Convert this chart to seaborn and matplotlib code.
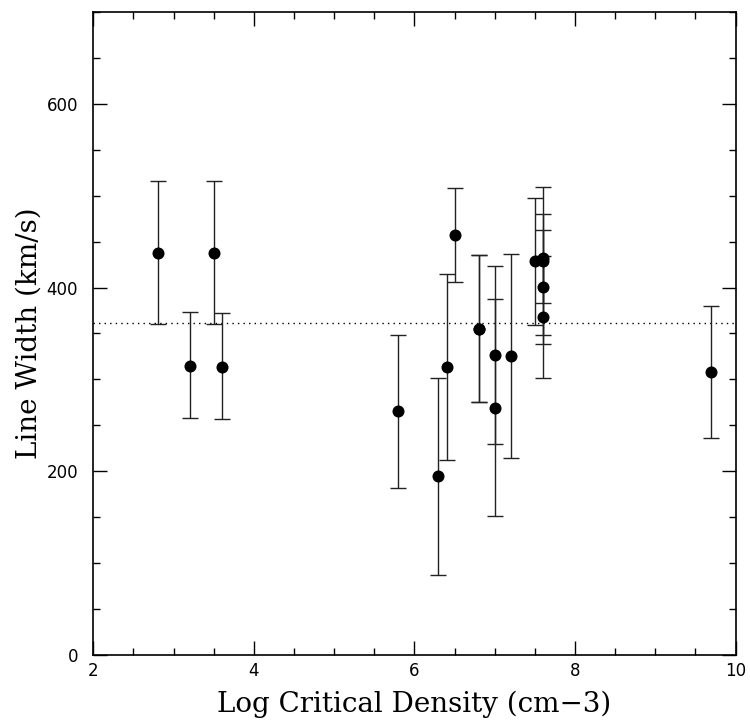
import matplotlib
matplotlib.use("Agg")
import matplotlib.pyplot as plt
from matplotlib.ticker import MultipleLocator
import seaborn as sns
import pandas as pd

# Data
log_density = [2.8, 3.2, 3.5, 3.6, 5.8, 6.3, 6.4, 6.5, 6.8, 6.8, 7.0, 7.0, 7.2, 7.5, 7.6, 7.6, 7.6, 7.6, 9.7]
line_width  = [438, 315, 438, 314, 266, 195, 313, 457, 355, 355, 327, 269, 325, 429, 432, 429, 401, 368, 308]
err_upper   = [78, 58, 78, 58, 82, 107, 102, 51, 80, 80, 96, 119, 111, 68, 48, 80, 62, 66, 72]
err_lower   = [78, 57, 78, 57, 84, 108, 101, 51, 80, 80, 97, 118, 111, 70, 49, 81, 62, 66, 72]
mean_width = 361

df = pd.DataFrame({"x": log_density, "y": line_width})

sns.set_theme(style="ticks")
plt.rcParams["font.family"] = ["DejaVu Sans"]

fig = plt.figure(figsize=(7.5, 7.26), dpi=100)
ax = fig.add_axes([0.1244, 0.0978, 0.8563, 0.8857])

ax.errorbar(df["x"], df["y"], yerr=[err_lower, err_upper], fmt="none",
            ecolor="#222222", elinewidth=1.0, capsize=5.5, capthick=1.0, zorder=2)
sns.scatterplot(data=df, x="x", y="y", ax=ax, color="black", s=75,
                edgecolor="black", linewidth=0, zorder=3, legend=False)
ax.axhline(mean_width, color="black", ls=(0, (1, 3)), lw=1.0, zorder=1)

ax.set_xlim(2, 10)
ax.set_ylim(0, 700)
ax.xaxis.set_major_locator(MultipleLocator(2))
ax.xaxis.set_minor_locator(MultipleLocator(0.5))
ax.yaxis.set_major_locator(MultipleLocator(200))
ax.yaxis.set_minor_locator(MultipleLocator(50))
ax.tick_params(which="both", direction="in", top=True, right=True, color="black",
               labelsize=12, labelcolor="black")
ax.tick_params(which="major", length=10, width=1.0)
ax.tick_params(which="minor", length=5, width=1.0)
ax.tick_params(axis="y", which="major", pad=11)
ax.tick_params(axis="x", which="major", pad=5)
for s in ax.spines.values():
    s.set_color("black")
    s.set_linewidth(1.2)

ax.set_xlabel("Log Critical Density (cm\u22123)", family="DejaVu Serif",
              fontsize=20, color="black", labelpad=8)
ax.set_ylabel("Line Width (km/s)", family="DejaVu Serif",
              fontsize=20, color="black", labelpad=3)

fig.savefig("out.png", dpi=100)
